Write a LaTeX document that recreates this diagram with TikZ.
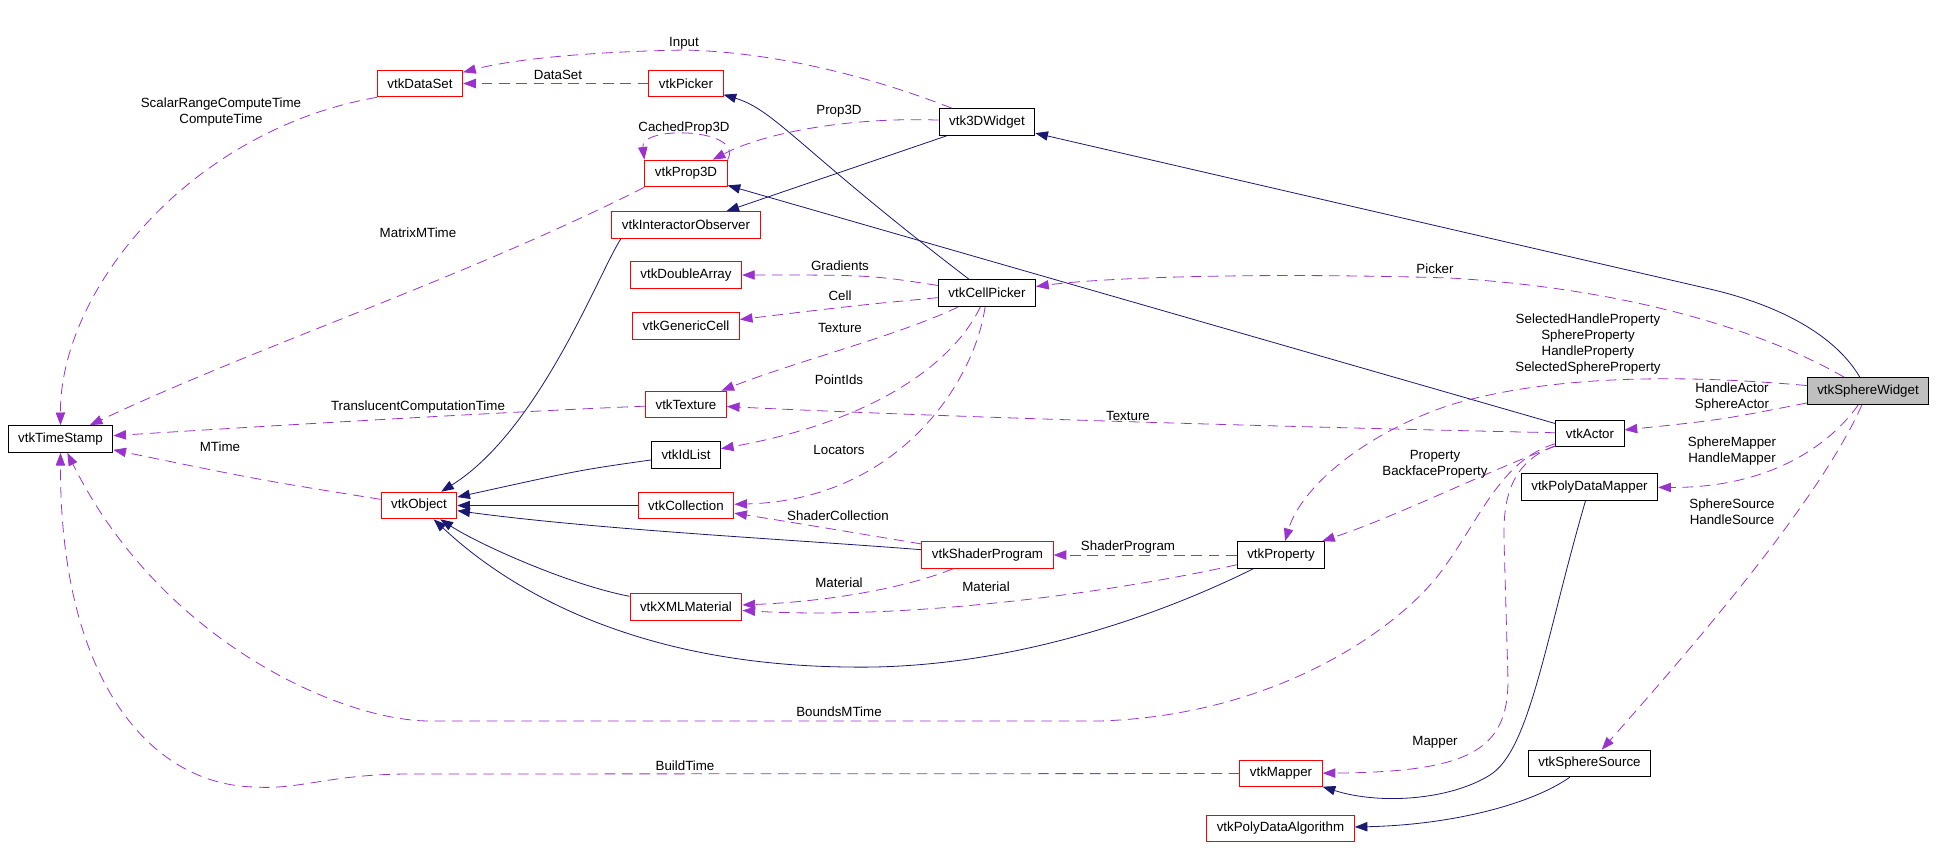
\documentclass[tikz,border=0pt]{standalone}
\usepackage{fontspec}
\setmainfont{Liberation Sans}
\usetikzlibrary{arrows.meta}
\definecolor{midnightblue}{HTML}{191970}
\definecolor{darkorchid}{HTML}{9A32CD}

\begin{document}
\begin{tikzpicture}[x=0.75pt,y=-0.75pt,font=\fontsize{10pt}{12pt}\selectfont,
  cls/.style={draw=black,line width=0.75pt,fill=white,minimum height=20pt,inner xsep=7.5pt,inner ysep=0pt},
  undoc/.style={cls,draw=red},
  main/.style={cls,fill=black!25},
  inh/.style={draw=midnightblue,line width=0.6pt,-{Triangle[length=9.5pt,width=7pt]}},
  use/.style={draw=darkorchid,line width=0.6pt,dash pattern=on 8pt off 5pt,-{Triangle[length=9.5pt,width=7pt]}},
  lbl/.style={inner sep=0pt,align=center}]

\useasboundingbox (0,0) rectangle (1936,847);

\node[undoc] (dataset) at (420,83.5) {vtkDataSet};
\node[undoc] (picker) at (686,83.5) {vtkPicker};
\node[cls] (w3d) at (987,122) {vtk3DWidget};
\node[undoc] (prop3d) at (686,173.5) {vtkProp3D};
\node[undoc] (intobs) at (686,225) {vtkInteractorObserver};
\node[undoc] (dblarr) at (686,275) {vtkDoubleArray};
\node[cls] (cellpicker) at (987,293) {vtkCellPicker};
\node[undoc] (gencell) at (686,326) {vtkGenericCell};
\node[undoc] (texture) at (686,404.5) {vtkTexture};
\node[cls] (idlist) at (686,455) {vtkIdList};
\node[undoc] (collection) at (686,505.5) {vtkCollection};
\node[undoc] (object) at (419,505.5) {vtkObject};
\node[cls] (tstamp) at (60.5,439) {vtkTimeStamp};
\node[undoc] (shprog) at (987.5,555) {vtkShaderProgram};
\node[undoc] (xmlmat) at (686,607) {vtkXMLMaterial};
\node[cls] (property) at (1281,555) {vtkProperty};
\node[cls] (actor) at (1590,433.5) {vtkActor};
\node[cls] (pdmapper) at (1589.5,487) {vtkPolyDataMapper};
\node[main] (sphwidget) at (1868,391) {vtkSphereWidget};
\node[undoc] (mapper) at (1281,773.5) {vtkMapper};
\node[cls] (sphsource) at (1589.5,763.5) {vtkSphereSource};
\node[undoc] (pdalgo) at (1280.5,828.5) {vtkPolyDataAlgorithm};

\draw[inh] (sphwidget) .. controls (1835,335) and (1780,306) .. (1714,290) -- (w3d);
\draw[inh] (w3d) -- (intobs);
\draw[inh] (intobs.-168) .. controls (600,270) and (540,430) .. (object);
\draw[inh] (cellpicker) .. controls (800,150) and (775,110) .. (picker);
\draw[inh] (actor) -- (prop3d);
\draw[inh] (idlist) .. controls (580,470) .. (object);
\draw[inh] (collection) -- (object);
\draw[inh] (shprog) .. controls (800,540) and (600,530) .. (object);
\draw[inh] (xmlmat) .. controls (570,585) and (480,545) .. (object);
\draw[inh] (property) .. controls (1150,620) and (1000,670) .. (848,667) .. controls (650,665) and (520,600) .. (object);
\draw[inh] (pdmapper) .. controls (1545,640) and (1530,750) .. (1490,775) .. controls (1450,800) and (1380,805) .. (mapper);
\draw[inh] (sphsource) .. controls (1530,805) and (1450,825) .. (pdalgo);

\draw[use] (w3d) .. controls (880,80) and (780,52) .. (684,50) .. controls (580,52) and (510,60) .. (dataset);
\draw[use] (picker) -- (dataset);
\draw[use] (w3d) .. controls (860,117) and (770,130) .. (prop3d);
\draw[use] (prop3d.north east) .. controls (745,128) and (640,125) .. (prop3d.north west);
\draw[use] (prop3d.south west) .. controls (460,280) and (260,345) .. (tstamp);
\draw[use] (dataset.south west) .. controls (190,130) and (60,290) .. (tstamp);
\draw[use] (texture) .. controls (500,412) and (250,427) .. (tstamp);
\draw[use] (object) .. controls (260,480) .. (tstamp);
\draw[use] (actor) .. controls (1500,460) and (1480,520) .. (1440,573) .. controls (1400,626) and (1280,715) .. (1100,721) -- (430,721) .. controls (340,721) and (160,640) .. (tstamp);
\draw[use] (mapper) -- (410,774) .. controls (330,774) and (300,790) .. (255,787) .. controls (150,785) and (60,680) .. (tstamp);
\draw[use] (actor) .. controls (1510,462) and (1503,500) .. (1504,540) -- (1508,680) .. controls (1508,750) and (1470,772) .. (mapper);
\draw[use] (cellpicker) .. controls (870,275) .. (dblarr);
\draw[use] (cellpicker) .. controls (860,305) .. (gencell);
\draw[use] (cellpicker) .. controls (900,335) and (800,360) .. (texture);
\draw[use] (cellpicker) .. controls (955,360) and (880,420) .. (idlist);
\draw[use] (cellpicker) .. controls (975,380) and (900,500) .. (collection);
\draw[use] (shprog) .. controls (850,532) and (790,522) .. (collection);
\draw[use] (property) -- (shprog);
\draw[use] (shprog) .. controls (900,590) and (820,602) .. (xmlmat);
\draw[use] (property) .. controls (1100,595) and (900,620) .. (xmlmat);
\draw[use] (sphwidget) .. controls (1780,340) and (1650,290) .. (1450,278) .. controls (1250,272) and (1100,278) .. (cellpicker);
\draw[use] (sphwidget) .. controls (1700,376) and (1560,372) .. (1450,405) .. controls (1360,435) and (1300,490) .. (property);
\draw[use] (sphwidget) .. controls (1720,420) .. (actor);
\draw[use] (sphwidget) .. controls (1830,445) and (1770,488) .. (pdmapper);
\draw[use] (sphwidget) .. controls (1820,500) and (1690,650) .. (sphsource);
\draw[use] (actor) .. controls (1200,425) and (900,415) .. (texture);
\draw[use] (actor) .. controls (1490,470) and (1400,515) .. (property);

\node[lbl] (lInput) at (684,43) {Input};
\node[lbl] (lDataSet) at (558,75) {DataSet};
\node[lbl] (lProp3D) at (839,111) {Prop3D};
\node[lbl] (lCached) at (684,128) {CachedProp3D};
\node[lbl] (lScalar) at (221,112) {ScalarRangeComputeTime\\ComputeTime};
\node[lbl] (lMatrix) at (418,233) {MatrixMTime};
\node[lbl] (lGradients) at (840,266) {Gradients};
\node[lbl] (lCell) at (840,296) {Cell};
\node[lbl] (lTexture) at (840,328) {Texture};
\node[lbl] (lPointIds) at (839,380) {PointIds};
\node[lbl] (lLocators) at (839,450) {Locators};
\node[lbl] (lTransl) at (418,407) {TranslucentComputationTime};
\node[lbl] (lMTime) at (220,447) {MTime};
\node[lbl] (lShColl) at (838,516) {ShaderCollection};
\node[lbl] (lShProg) at (1128,547) {ShaderProgram};
\node[lbl] (lMaterialA) at (839,583) {Material};
\node[lbl] (lMaterialB) at (986,587) {Material};
\node[lbl] (lTextureB) at (1128,416) {Texture};
\node[lbl] (lPicker) at (1435,269) {Picker};
\node[lbl] (lProps) at (1588,344) {SelectedHandleProperty\\SphereProperty\\HandleProperty\\SelectedSphereProperty};
\node[lbl] (lActors) at (1732,397.5) {HandleActor\\SphereActor};
\node[lbl] (lMappers) at (1732,451) {SphereMapper\\HandleMapper};
\node[lbl] (lSources) at (1732,511.5) {SphereSource\\HandleSource};
\node[lbl] (lProperty) at (1435,464) {Property\\BackfaceProperty};
\node[lbl] (lBounds) at (839,712) {BoundsMTime};
\node[lbl] (lBuild) at (685,766) {BuildTime};
\node[lbl] (lMapper) at (1435,742) {Mapper};

\end{tikzpicture}
\end{document}
